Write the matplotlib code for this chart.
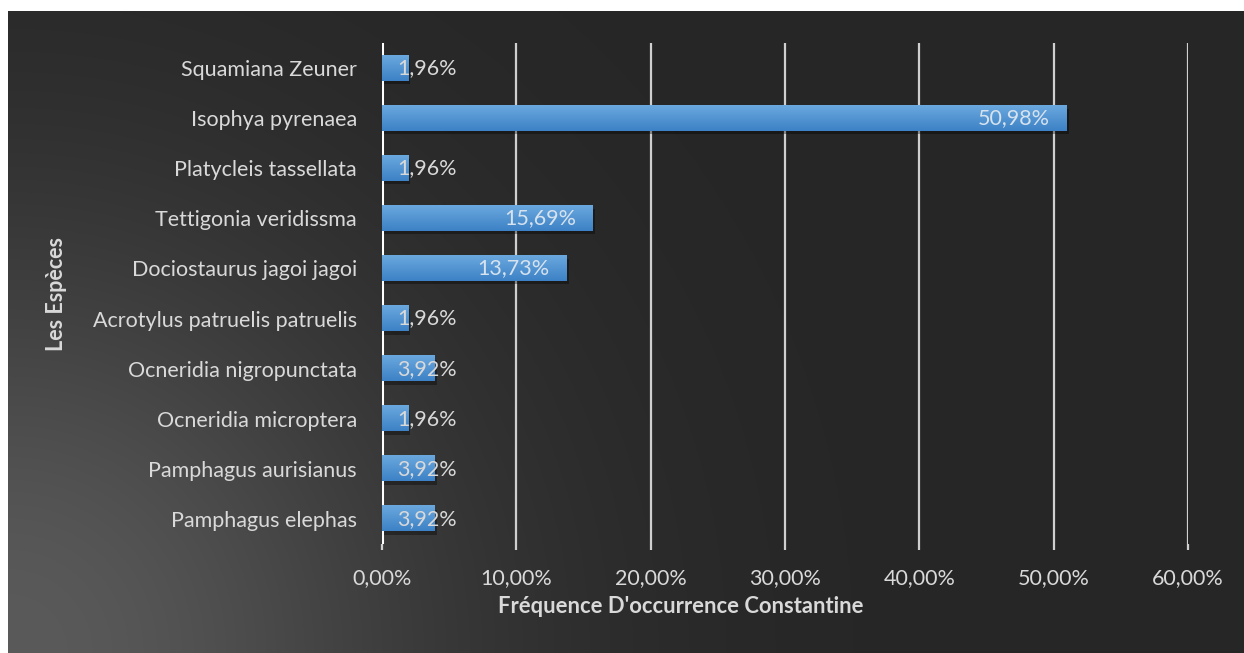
import numpy as np
import matplotlib
matplotlib.use('Agg')
import matplotlib.pyplot as plt
import matplotlib.patheffects as pe
from matplotlib.ticker import FuncFormatter, MultipleLocator

# data (bottom to top, as drawn)
especes = ['Pamphagus elephas', 'Pamphagus aurisianus', 'Ocneridia microptera',
           'Ocneridia nigropunctata', 'Acrotylus patruelis patruelis',
           'Dociostaurus jagoi jagoi', 'Tettigonia veridissma',
           'Platycleis tassellata', 'Isophya pyrenaea', 'Squamiana Zeuner']
frequence = [3.92, 3.92, 1.96, 3.92, 1.96, 13.73, 15.69, 1.96, 50.98, 1.96]

plt.rcParams['font.family'] = ['Lato', 'DejaVu Sans']
txt = '#d9d9d9'
fs = 15.5

fig = plt.figure(figsize=(12.44, 6.53), dpi=100, facecolor='white')

# dark background panel with radial glow from the bottom-left corner
bg = fig.add_axes([8 / 1244, 0, 1 - 8 / 1244, 1 - 11 / 653], zorder=0)
w, h = 1236, 642
xx, yy = np.meshgrid(np.arange(w), np.arange(h))
d = np.hypot(xx, h - yy)
glow = np.exp(-(d / 425.0) ** 2)
level = (0x26 + (0x5a - 0x26) * glow) / 255.0
bg.imshow(np.dstack([level, level, level]), aspect='auto', extent=[0, 1, 0, 1])
bg.axis('off')

ax = fig.add_axes([382 / 1244, 1 - 544 / 653, (1188 - 382) / 1244, (544 - 43) / 653], zorder=1)
ax.patch.set_alpha(0)

y = np.arange(len(especes))
bars = ax.barh(y, frequence, height=0.5, color='#4a8fd4', zorder=3)
cmap = matplotlib.colors.LinearSegmentedColormap.from_list('g', ['#3d82c6', '#6aa8de'])
for b in bars:
    b.set_path_effects([pe.SimplePatchShadow(offset=(1.5, -2.5), alpha=0.35, shadow_rgbFace='black'),
                        pe.Normal()])
    # top-to-bottom light gradient on each bar
    x0, y0 = b.get_x(), b.get_y()
    grad = np.linspace(0, 1, 50).reshape(-1, 1)
    ax.imshow(grad, cmap=cmap, aspect='auto', origin='lower',
              extent=[x0, x0 + b.get_width(), y0, y0 + b.get_height()], zorder=4)

for yi, v in zip(y, frequence):
    lab = f'{v:.2f}%'.replace('.', ',')
    if v < 5:
        ax.annotate(lab, (0, yi), xytext=(11, 0), textcoords='offset points',
                    ha='left', va='center', color=txt, fontsize=fs, zorder=5)
    else:
        ax.annotate(lab, (v, yi), xytext=(-12, 0), textcoords='offset points',
                    ha='right', va='center', color='#d6e2ee', fontsize=fs, zorder=5)

ax.set_xlim(0, 60)
ax.set_ylim(-0.5, len(especes) - 0.5)
ax.xaxis.set_major_locator(MultipleLocator(10))
ax.xaxis.set_major_formatter(FuncFormatter(lambda v, p: f'{v:.2f}%'.replace('.', ',')))
ax.set_yticks(y)
ax.set_yticklabels(especes)

ax.grid(axis='x', color='#cfcfcf', linewidth=1.6, zorder=1)
ax.axvline(0, color='white', linewidth=2.2, zorder=2)
for s in ax.spines.values():
    s.set_visible(False)

ax.tick_params(axis='y', length=0, pad=18, labelsize=fs, labelcolor=txt)
ax.tick_params(axis='x', length=4, width=1.6, color='#cfcfcf', pad=13,
               labelsize=fs, labelcolor=txt)

ax.set_xlabel("Fréquence D'occurrence Constantine", fontsize=15.8, fontweight='bold',
              color=txt)
ax.xaxis.set_label_coords((681 - 382) / (1188 - 382), -(596 - 544) / (544 - 43))
ax.set_ylabel('Les Espèces', fontsize=15.5, fontweight='bold', color=txt)
ax.yaxis.set_label_coords(-(382 - 67) / (1188 - 382), 0.5)

fig.savefig('out.png', dpi=100, facecolor='white')
